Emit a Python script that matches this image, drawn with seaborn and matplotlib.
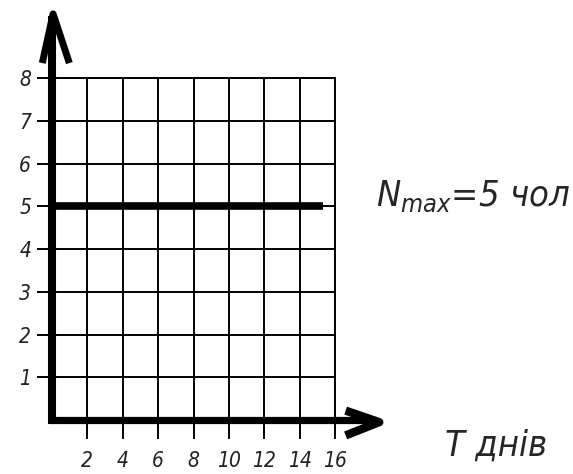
import matplotlib
matplotlib.use("Agg")
import matplotlib.pyplot as plt
import seaborn as sns

# data
days = [0, 15.3]
workers = [5, 5]
x_ticks = [2, 4, 6, 8, 10, 12, 14, 16]
y_ticks = [1, 2, 3, 4, 5, 6, 7, 8]
n_max_label = r"$N_{max}$=5 чол"
x_axis_label = "Т днів"

sns.set_style("white")
plt.rcParams["font.family"] = ["DejaVu Sans"]
plt.rcParams["font.stretch"] = "condensed"
plt.rcParams["mathtext.fontset"] = "custom"
plt.rcParams["mathtext.it"] = "DejaVu Sans:italic"
plt.rcParams["mathtext.rm"] = "DejaVu Sans:italic"

fig = plt.figure(figsize=(5.73, 4.74), dpi=100)
ax = fig.add_axes([0.0908, 0.1139, 0.4939, 0.7215])

# the N = 5 line
sns.lineplot(x=days, y=workers, ax=ax, color="black", linewidth=5.5,
             solid_capstyle="butt", zorder=5)

ax.set_xlim(0, 16)
ax.set_ylim(0, 8)
ax.set_xticks(x_ticks)
ax.set_yticks(y_ticks)
ax.set_xticklabels([str(t) for t in x_ticks], fontstyle="italic", fontsize=15, color="#222222")
ax.set_yticklabels([str(t) for t in y_ticks], fontstyle="italic", fontsize=15, color="#222222")
ax.tick_params(axis="x", direction="out", length=14, width=1.4, pad=8, colors="black",
               labelcolor="#222222", bottom=True)
ax.tick_params(axis="y", direction="out", length=11, width=1.4, pad=4, colors="black",
               labelcolor="#222222", left=True)
ax.grid(True, color="black", linewidth=1.4)

for side in ["left", "bottom"]:
    ax.spines[side].set_visible(False)
for side in ["top", "right"]:
    ax.spines[side].set_color("black")
    ax.spines[side].set_linewidth(1.4)

# thick axes with arrows
ax.plot([0, 0], [-0.1, 9.45], color="black", lw=5.8, clip_on=False, zorder=6,
        solid_capstyle="butt")
ax.plot([-0.55, 0.06, 0.98], [8.35, 9.5, 8.35], color="black", lw=5, clip_on=False,
        zorder=6, solid_joinstyle="round", solid_capstyle="butt")
ax.plot([-0.15, 18.3], [0, 0], color="black", lw=5.2, clip_on=False, zorder=6,
        solid_capstyle="butt")
ax.plot([16.6, 18.5, 16.6], [0.22, -0.05, -0.36], color="black", lw=6, clip_on=False,
        zorder=6, solid_joinstyle="round", solid_capstyle="butt")

fig.text(0.657, 0.585, n_max_label, fontsize=26, fontstyle="italic", va="center", ha="left")
fig.text(0.777, 0.059, x_axis_label, fontsize=26, fontstyle="italic", va="center", ha="left")

fig.savefig("out.png", dpi=100)
